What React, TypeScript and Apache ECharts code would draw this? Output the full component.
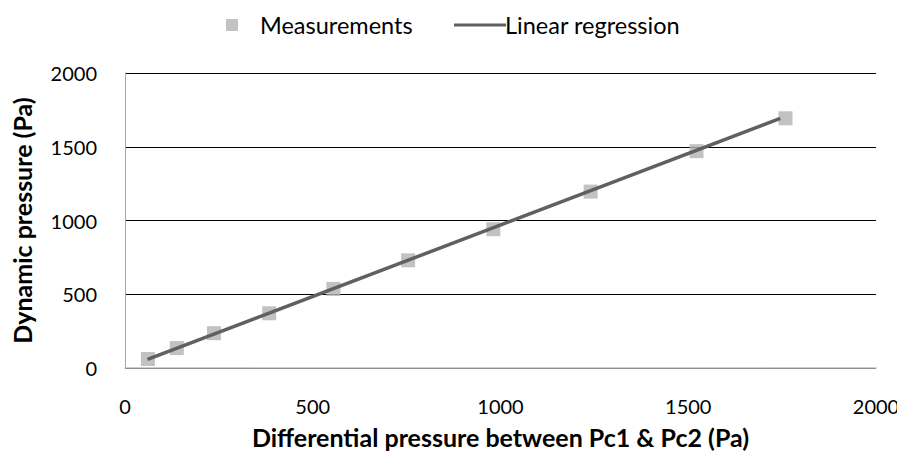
import React, { useEffect, useRef } from "react";
import * as echarts from "echarts";

const measX = [61, 138, 237, 384, 555, 754, 981, 1240, 1522, 1759];
const measY = [61, 135, 236, 371, 536, 730, 941, 1196, 1470, 1693];
const regX = [60, 1745];
const regY = [58, 1692];

const FONT = "Lato";

export default function App() {
  const ref = useRef<HTMLDivElement>(null);
  useEffect(() => {
    const chart = echarts.init(ref.current!, undefined, { renderer: "svg" });
    chart.setOption({
      animation: false,
      textStyle: { fontFamily: FONT },
      grid: { left: 125, right: 29, top: 73, bottom: 91, containLabel: false },
      legend: [
        {
          data: [{ name: "Measurements", icon: "rect" }],
          left: 221,
          top: 8,
          itemWidth: 12,
          itemHeight: 12,
          textStyle: { fontFamily: FONT, fontSize: 23.5, color: "#000", padding: [0, 0, 0, 17] },
        },
        {
          data: [{ name: "Linear regression", icon: "rect", itemStyle: { color: "#606060" } }],
          left: 449,
          top: 8,
          itemWidth: 52,
          itemHeight: 3,
          textStyle: { fontFamily: FONT, fontSize: 23.5, color: "#000", padding: [0, 0, 0, -6] },
        },
      ],
      xAxis: {
        type: "value",
        min: 0,
        max: 2000,
        interval: 500,
        name: "Differential pressure between Pc1 & Pc2 (Pa)",
        nameLocation: "middle",
        nameGap: 56,
        nameTextStyle: { fontFamily: FONT, fontSize: 25, fontWeight: "bold", color: "#000" },
        axisLine: { show: true, onZero: false, lineStyle: { color: "#bfbfbf", width: 1.5 } },
        axisTick: { show: false },
        splitLine: { show: false },
        axisLabel: { fontFamily: FONT, fontSize: 20, color: "#000", margin: 28, formatter: (v: number) => String(v) },
      },
      yAxis: {
        type: "value",
        min: 0,
        max: 2000,
        interval: 500,
        name: "Dynamic pressure (Pa)",
        nameLocation: "middle",
        nameGap: 91,
        nameTextStyle: { fontFamily: FONT, fontSize: 25, fontWeight: "bold", color: "#000" },
        axisLine: { show: true, lineStyle: { color: "#a6a6a6", width: 1 } },
        axisTick: { show: false },
        splitLine: { show: true, lineStyle: { color: "#000", width: 1 } },
        axisLabel: { fontFamily: FONT, fontSize: 20, color: "#000", margin: 28, formatter: (v: number) => String(v) },
      },
      series: [
        {
          name: "Measurements",
          type: "scatter",
          symbol: "rect",
          symbolSize: 14,
          itemStyle: { color: "#b3b3b3" },
          data: measX.map((x, i) => [x, measY[i]]),
          z: 2,
        },
        {
          name: "Linear regression",
          type: "line",
          symbol: "none",
          lineStyle: { color: "#606060", width: 3.5 },
          itemStyle: { color: "#606060" },
          data: regX.map((x, i) => [x, regY[i]]),
          z: 3,
        },
      ],
    });
    return () => chart.dispose();
  }, []);
  return <div ref={ref} style={{ width: 905, height: 459, margin: -8 }} />;
}
